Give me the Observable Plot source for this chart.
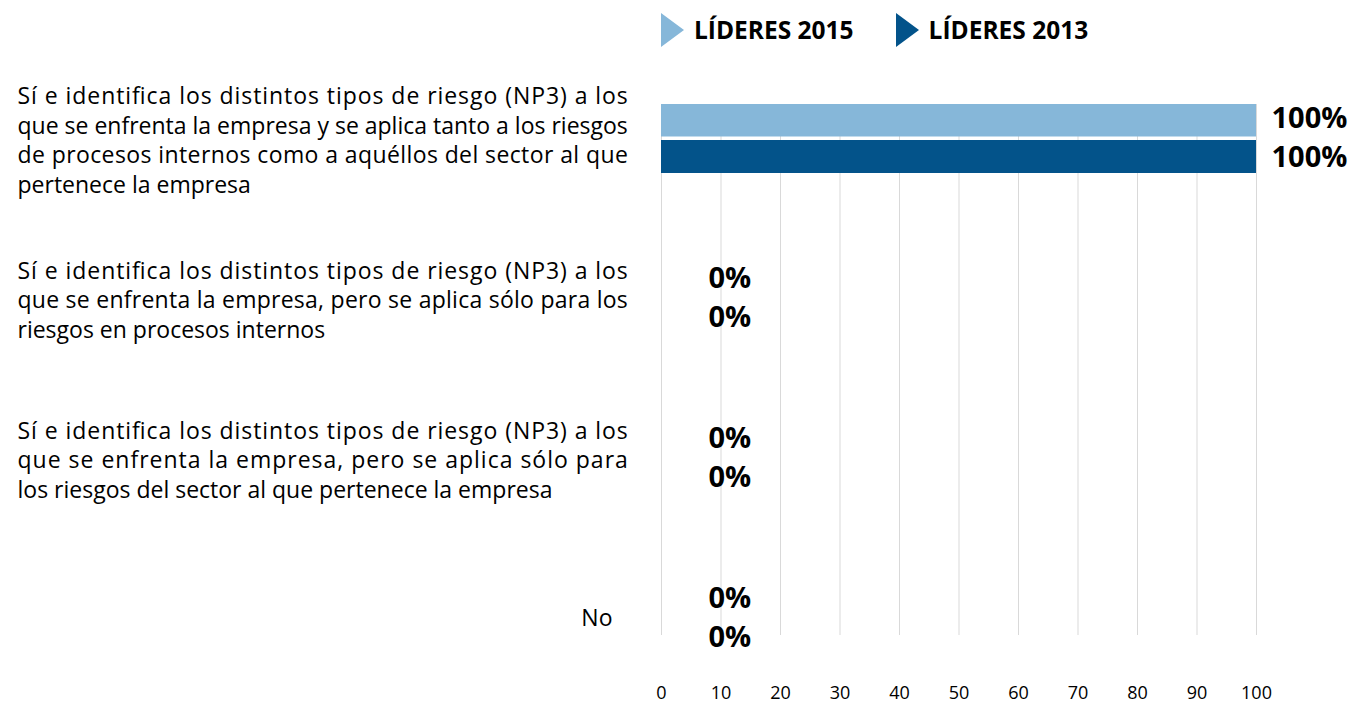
<!DOCTYPE html>
<html>
<head>
<meta charset="utf-8">
<script src="https://cdn.jsdelivr.net/npm/d3@7"></script>
<script src="https://cdn.jsdelivr.net/npm/@observablehq/plot@0.6"></script>
<style>
  html, body { margin: 0; padding: 0; background: #fff; }
  body { width: 1356px; height: 704px; position: relative; overflow: hidden; font-family: "Open Sans", Lato, sans-serif; }
  #legend { position: absolute; top: 12px; left: 661px; display: flex; align-items: center; font-weight: 700; font-size: 24.5px; color: #000; line-height: 35px; }
  .item { display: flex; align-items: center; margin-right: 42px; }
  .tri { width: 0; height: 0; border-top: 17.5px solid transparent; border-bottom: 17.5px solid transparent; margin-right: 10px; }
  #chart { position: absolute; top: 0; left: 0; }
</style>
</head>
<body>
<div id="chart"></div>
<div id="legend"></div>
<script>
// Category labels (line breaks as in the reference)
const categories = [
  "Sí e identifica los distintos tipos de riesgo (NP3) a los\nque se enfrenta la empresa y se aplica tanto a los riesgos\nde procesos internos como a aquéllos del sector al que\npertenece la empresa",
  "Sí e identifica los distintos tipos de riesgo (NP3) a los\nque se enfrenta la empresa, pero se aplica sólo para los\nriesgos en procesos internos",
  "Sí e identifica los distintos tipos de riesgo (NP3) a los\nque se enfrenta la empresa, pero se aplica sólo para\nlos riesgos del sector al que pertenece la empresa",
  "No"
];
const seriesNames = ["LÍDERES 2015", "LÍDERES 2013"];
const values2015 = [100, 0, 0, 0];
const values2013 = [100, 0, 0, 0];
const xTicks = [0, 10, 20, 30, 40, 50, 60, 70, 80, 90, 100];
const colors = ["#86b7d9", "#03538a"];

const data = [];
categories.forEach((c, i) => {
  data.push({category: c, series: seriesNames[0], value: values2015[i]});
  data.push({category: c, series: seriesNames[1], value: values2013[i]});
});
const d15 = data.filter(d => d.series === seriesNames[0]);
const d13 = data.filter(d => d.series === seriesNames[1]);
const labelFont = {fontSize: 29, fontWeight: 700, fill: "#000"};

const chart = Plot.plot({
  width: 1356,
  height: 704,
  marginLeft: 661,
  marginRight: 100,
  marginTop: 104,
  marginBottom: 69,
  style: {fontFamily: "'Open Sans', Lato, sans-serif", background: "#fff"},
  x: {domain: [0, 100], range: [661, 1256]},
  y: {domain: categories, range: [104, 653], paddingInner: 0.569, paddingOuter: 0, align: 0, axis: null},
  color: {domain: seriesNames, range: colors},
  marks: [
    Plot.gridX(xTicks, {stroke: "#d9d9d9", strokeOpacity: 1, strokeWidth: 1}),
    Plot.axisX(xTicks, {tickSize: 0, tickPadding: 51, fontSize: 18, tickFormat: d => d, fill: "#000", label: null}),
    Plot.barX(d15, {x: "value", y: "category", fill: "series", insetBottom: 36.5}),
    Plot.barX(d13, {x: "value", y: "category", fill: "series", insetTop: 36}),
    Plot.text(d15.filter(d => d.value > 0), {x: "value", y: "category", text: d => d.value + "%", textAnchor: "start", dx: 15, dy: -20, ...labelFont}),
    Plot.text(d13.filter(d => d.value > 0), {x: "value", y: "category", text: d => d.value + "%", textAnchor: "start", dx: 15, dy: 19, ...labelFont}),
    Plot.text(d15.filter(d => d.value === 0), {x: "value", y: "category", text: d => d.value + "%", textAnchor: "start", dx: 47, dy: -20, ...labelFont}),
    Plot.text(d13.filter(d => d.value === 0), {x: "value", y: "category", text: d => d.value + "%", textAnchor: "start", dx: 47, dy: 19, ...labelFont}),
    Plot.text(categories.filter(c => c.includes("\n")), {y: d => d, text: d => d, frameAnchor: "left", textAnchor: "start", dx: -644, fontSize: 23, lineHeight: 1.28, fill: "#000", className: "catlabel"}),
    Plot.text(categories.filter(c => !c.includes("\n")), {y: d => d, text: d => d, frameAnchor: "left", textAnchor: "end", dx: -49, fontSize: 23, fill: "#000"})
  ]
});
document.getElementById("chart").appendChild(chart);

// Justify the wrapped category labels (all lines but the last) to a common box width, like the reference
const labelTexts = Array.from(chart.querySelectorAll(".catlabel text"));
const allSpans = labelTexts.flatMap(t => Array.from(t.querySelectorAll("tspan")));
const boxWidth = Math.max(...allSpans.map(s => s.getComputedTextLength()));
labelTexts.forEach(t => {
  const spans = Array.from(t.querySelectorAll("tspan"));
  if (spans.length < 2) return;
  spans.slice(0, -1).forEach(s => {
    s.setAttribute("textLength", boxWidth);
    s.setAttribute("lengthAdjust", "spacing");
  });
});

// Legend
const legend = document.getElementById("legend");
seriesNames.forEach((name, i) => {
  const item = document.createElement("div");
  item.className = "item";
  const tri = document.createElement("div");
  tri.className = "tri";
  tri.style.borderLeft = "23px solid " + colors[i];
  const label = document.createElement("span");
  label.textContent = name;
  item.appendChild(tri);
  item.appendChild(label);
  legend.appendChild(item);
});
</script>
</body>
</html>
